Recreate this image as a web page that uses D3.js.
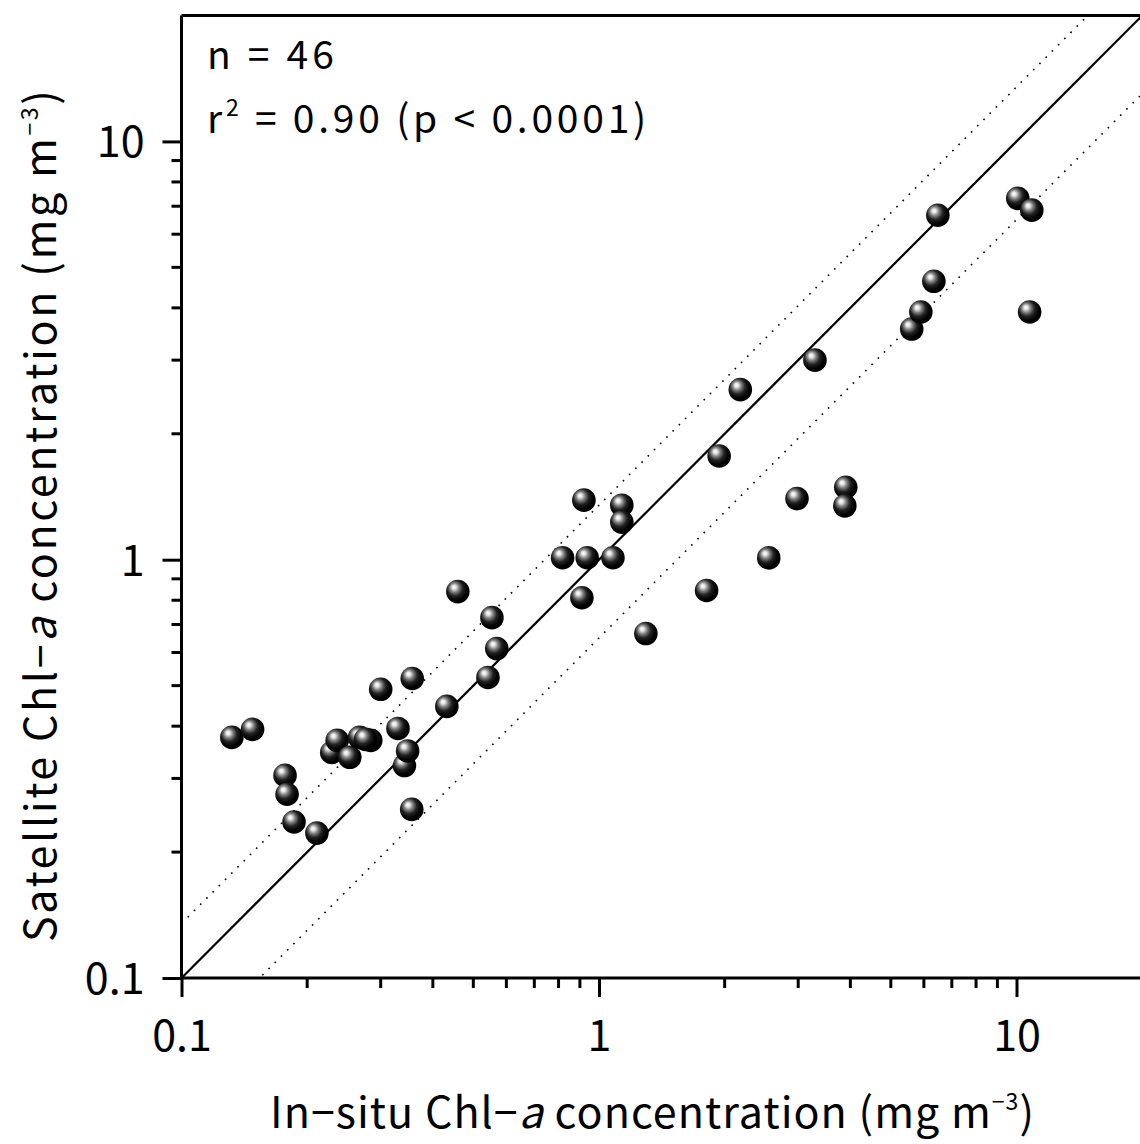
<!DOCTYPE html>
<html><head><meta charset="utf-8">
<script src="https://cdn.jsdelivr.net/npm/d3@7"></script>
<style>
html,body{margin:0;padding:0;background:#fff;overflow:hidden;}
text{font-family:"Noto Sans CJK JP","Noto Sans",sans-serif;fill:#000;}
</style></head>
<body>
<svg id="chart" width="1140" height="1144"></svg>
<script>
// In-situ Chl-a (x) and satellite Chl-a (y), mg m^-3
const insitu = [0.132,0.148,0.177,0.179,0.186,0.211,0.229,0.236,0.253,0.267,0.284,0.276,0.300,0.330,0.342,0.348,0.356,0.357,0.432,0.459,0.542,0.554,0.569,0.818,0.920,0.910,0.937,1.08,1.134,1.134,1.295,1.81,1.94,2.18,2.55,2.98,3.29,3.90,3.88,5.61,5.90,6.34,6.48,10.07,10.88,10.75];
const satellite = [0.376,0.393,0.305,0.275,0.236,0.222,0.346,0.370,0.337,0.376,0.370,0.372,0.490,0.395,0.322,0.349,0.253,0.520,0.446,0.839,0.523,0.727,0.613,1.011,1.388,0.811,1.011,1.011,1.35,1.23,0.666,0.844,1.77,2.55,1.01,1.40,3.0,1.49,1.345,3.56,3.91,4.63,6.66,7.31,6.85,3.91];
const majorTicks = [0.1, 1, 10];
const majorLabels = ["0.1", "1", "10"];
const minorTicks = [0.2,0.3,0.4,0.5,0.6,0.7,0.8,0.9,2,3,4,5,6,7,8,9];
const refLines = [1, 1.35, 0.65]; // 1:1 and ±35%
const domain = [0.1, 20];

const svg = d3.select("#chart");
const L = 181.5, R = 181.5 + 417.5 * Math.log10(200), T = 15.5, B = 978;
const x = d3.scaleLog().domain(domain).range([L, R]);
const y = d3.scaleLog().domain(domain).range([B, T]);

const defs = svg.append("defs");
const g = defs.append("radialGradient").attr("id","ball")
  .attr("cx","0.42").attr("cy","0.40").attr("r","0.62")
  .attr("fx","0.33").attr("fy","0.30");
[[0,"#ffffff"],[0.13,"#e6e6e6"],[0.32,"#7e7e7e"],[0.54,"#222"],[0.8,"#000"],[1,"#000"]]
  .forEach(([o,c]) => g.append("stop").attr("offset",o).attr("stop-color",c));
defs.append("clipPath").attr("id","clip").append("rect")
  .attr("x",L).attr("y",T).attr("width",R-L).attr("height",B-T);

// reference lines
const lineGen = k => d3.line()(domain.map(v => [x(v), y(v * k)]));
svg.append("g").attr("clip-path","url(#clip)")
  .selectAll("path").data(refLines).join("path")
  .attr("d", d => lineGen(d))
  .attr("fill","none").attr("stroke","#000")
  .attr("stroke-width", d => d === 1 ? 2.2 : 1.6)
  .attr("stroke-dasharray", d => d === 1 ? null : "1.6,7.2");

// axes
const xAxisG = svg.append("g").attr("transform",`translate(0,${B})`);
xAxisG.call(d3.axisBottom(x).tickValues(majorTicks).tickSize(19).tickFormat((d,i)=>majorLabels[i]).tickPadding(10))
xAxisG.call(g2 => g2.selectAll(".minor").data(minorTicks).join("line").attr("class","minor")
  .attr("x1",d=>x(d)).attr("x2",d=>x(d)).attr("y1",0).attr("y2",10).attr("stroke","#000").attr("stroke-width",3));
const yAxisG = svg.append("g").attr("transform",`translate(${L},0)`);
yAxisG.call(d3.axisLeft(y).tickValues(majorTicks).tickSize(19).tickFormat((d,i)=>majorLabels[i]).tickPadding(18));
yAxisG.call(g2 => g2.selectAll(".minor").data(minorTicks).join("line").attr("class","minor")
  .attr("y1",d=>y(d)).attr("y2",d=>y(d)).attr("x1",0).attr("x2",-10).attr("stroke","#000").attr("stroke-width",3));
[xAxisG, yAxisG].forEach(a => {
  a.select(".domain").remove();
  a.selectAll(".tick line").attr("stroke","#000").attr("stroke-width",3);
  a.selectAll(".tick text").style("font-size","43px").attr("fill","#000");
});
xAxisG.selectAll(".tick text").attr("dy","1.02em");
yAxisG.selectAll(".tick text").attr("dy","0.36em");

// frame: bottom, left, top
svg.append("path").attr("d",`M${L},${T}V${B}H${R}M${L},${T}H${R}`)
  .attr("fill","none").attr("stroke","#000").attr("stroke-width",3);

// points
svg.append("g").selectAll("circle").data(insitu.map((v,i)=>[v,satellite[i]])).join("circle")
  .attr("cx",d=>x(d[0])).attr("cy",d=>y(d[1])).attr("r",11.8)
  .attr("fill","url(#ball)");

// stretch text to a target width via letter-spacing
function fit(sel, target) {
  const node = sel.node();
  const n = node.textContent.length;
  const w = node.getComputedTextLength();
  sel.style("letter-spacing", ((target - w) / n) + "px");
}

// annotations
const t1 = svg.append("text").attr("x",207).attr("y",69).style("font-size","39px").text("n = 46");
fit(t1, 131);
const t2 = svg.append("text").attr("x",207).attr("y",133).style("font-size","39px");
t2.append("tspan").text("r");
t2.append("tspan").attr("dy",-17).style("font-size","23px").text("2");
t2.append("tspan").attr("dy",17).text(" = 0.90 (p < 0.0001)");
fit(t2, 443);

// axis titles
const xt = svg.append("text").attr("x",270).attr("y",1128).style("font-size","43px");
xt.append("tspan").text("In−situ Chl−");
xt.append("tspan").style("font-style","italic").text("a");
xt.append("tspan").text(" concentration (mg m");
xt.append("tspan").attr("dy",-18).style("font-size","23px").text("−3");
xt.append("tspan").attr("dy",18).text(")");
fit(xt, 765);

const yt = svg.append("text").attr("transform","translate(56,942) rotate(-90)").style("font-size","43px");
yt.append("tspan").text("Satellite Chl−");
yt.append("tspan").style("font-style","italic").text("a");
yt.append("tspan").text("  concentration (mg m");
yt.append("tspan").attr("dy",-18).style("font-size","23px").text("−3");
yt.append("tspan").attr("dy",18).text(")");
fit(yt, 857);
</script>
</body></html>
